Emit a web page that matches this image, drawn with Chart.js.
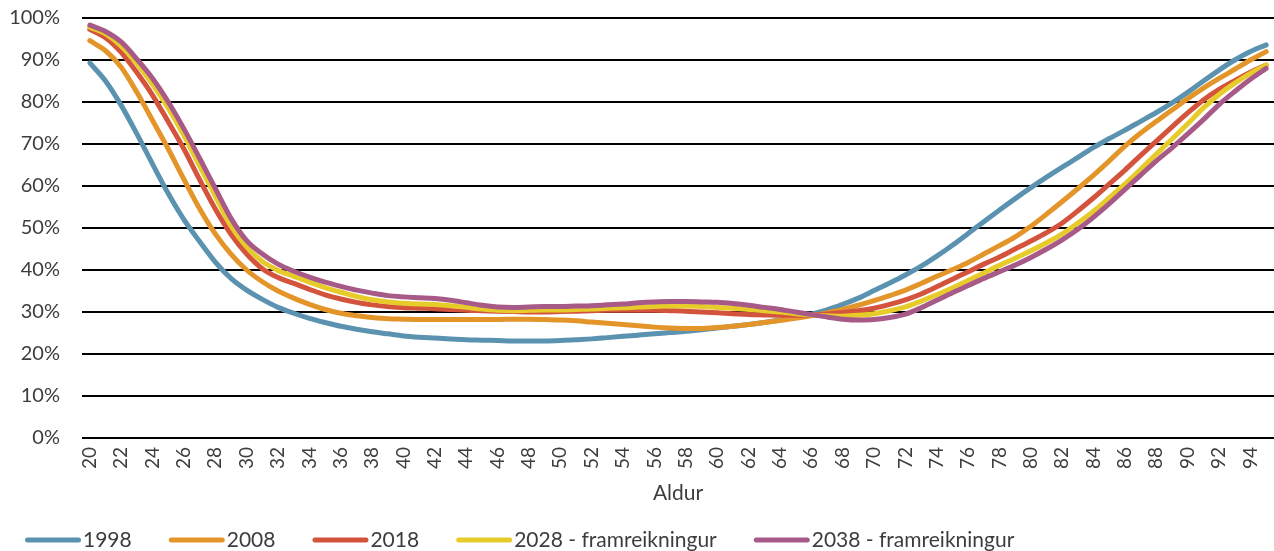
<!DOCTYPE html>
<html>
<head>
<meta charset="utf-8">
<script src="https://cdn.jsdelivr.net/npm/chart.js@4.4.1/dist/chart.umd.min.js"></script>
<style>
  html, body { margin: 0; padding: 0; background: #ffffff; }
  canvas { display: block; }
</style>
</head>
<body>
<canvas id="chart" width="1274" height="551"></canvas>
<script>
// Age groups on the horizontal axis
const ages = [20,21,22,23,24,25,26,27,28,29,30,31,32,33,34,35,36,37,38,39,
              40,41,42,43,44,45,46,47,48,49,50,51,52,53,54,55,56,57,58,59,
              60,61,62,63,64,65,66,67,68,69,70,71,72,73,74,75,76,77,78,79,
              80,81,82,83,84,85,86,87,88,89,90,91,92,93,94,95];

// Share (%) by age, one array per year
const y1998 = [89.3,85.0,79.2,72.4,65.2,58.2,52.0,46.8,41.9,38.0,
               35.2,33.0,31.1,29.7,28.5,27.5,26.6,25.9,25.3,24.8,
               24.3,24.0,23.8,23.6,23.4,23.3,23.2,23.1,23.1,23.1,
               23.2,23.4,23.6,23.9,24.2,24.5,24.8,25.1,25.4,25.8,
               26.2,26.6,27.0,27.5,28.1,28.8,29.5,30.5,31.8,33.3,
               35.1,36.9,38.8,40.9,43.3,45.9,48.7,51.5,54.3,57.0,
               59.6,62.1,64.5,66.8,69.2,71.3,73.3,75.4,77.5,79.8,
               82.3,85.0,87.6,90.0,92.0,93.6];

const y2008 = [94.6,92.2,88.3,82.3,75.6,68.8,61.6,54.6,48.6,43.8,
               40.0,37.2,35.0,33.3,31.8,30.6,29.7,29.1,28.7,28.4,
               28.3,28.2,28.2,28.2,28.2,28.2,28.2,28.3,28.3,28.2,
               28.1,27.9,27.6,27.3,27.0,26.7,26.4,26.2,26.1,26.1,
               26.3,26.6,27.0,27.5,28.0,28.5,29.1,29.8,30.6,31.6,
               32.7,33.9,35.2,36.8,38.5,40.1,41.8,43.8,45.8,47.9,
               50.4,53.3,56.3,59.4,62.6,66.0,69.5,72.6,75.4,78.1,
               80.8,83.3,85.6,87.8,90.0,92.0];

const y2018 = [97.3,95.3,91.8,87.0,81.6,75.3,68.8,61.5,54.5,48.5,
               43.8,40.3,38.2,36.8,35.4,34.1,33.1,32.3,31.7,31.3,
               31.0,30.9,30.8,30.6,30.4,30.3,30.2,30.1,30.0,30.0,
               30.1,30.2,30.3,30.4,30.4,30.4,30.4,30.3,30.2,30.0,
               29.8,29.6,29.4,29.3,29.2,29.2,29.3,29.5,29.9,30.3,
               30.9,31.8,32.9,34.3,36.0,37.8,39.6,41.4,43.1,45.0,
               46.9,48.9,51.2,54.1,57.2,60.5,63.8,67.3,70.7,74.1,
               77.4,80.5,83.0,85.1,87.1,88.8];

const y2028 = [97.8,96.2,93.3,89.1,84.2,78.5,72.0,64.8,57.6,50.5,
               45.5,42.0,39.9,38.5,37.1,35.8,34.7,33.7,32.9,32.4,
               32.1,31.9,31.8,31.5,31.1,30.7,30.4,30.3,30.4,30.5,
               30.5,30.6,30.7,30.9,31.0,31.2,31.3,31.4,31.4,31.3,
               31.1,30.9,30.6,30.3,30.0,29.6,29.3,29.1,29.0,29.2,
               29.6,30.3,31.2,32.6,34.1,35.7,37.5,39.3,41.1,42.8,
               44.6,46.5,48.6,51.2,54.0,57.2,60.5,64.0,67.6,71.2,
               74.8,78.6,81.8,84.5,86.8,88.8];

const y2038 = [98.3,96.8,94.3,90.2,85.6,80.0,73.6,66.6,59.4,52.3,
               47.0,43.8,41.4,39.7,38.3,37.1,36.1,35.2,34.5,33.9,
               33.6,33.4,33.2,32.8,32.2,31.6,31.2,31.1,31.2,31.3,
               31.3,31.4,31.5,31.7,31.9,32.2,32.4,32.5,32.5,32.4,
               32.3,32.0,31.6,31.1,30.6,30.0,29.4,28.8,28.3,28.1,
               28.2,28.7,29.5,31.0,32.8,34.6,36.3,38.0,39.6,41.2,
               43.0,45.0,47.2,49.7,52.6,55.8,59.2,62.6,66.0,69.1,
               72.4,75.8,79.4,82.5,85.4,88.0];

const seriesNames = ['1998', '2008', '2018', '2028 - framreikningur', '2038 - framreikningur'];
const seriesData = [y1998, y2008, y2018, y2028, y2038];
const seriesColors = ['#5a92b0', '#e3952a', '#d3533c', '#e6cb2b', '#a75a87'];

const yTicks = [0, 10, 20, 30, 40, 50, 60, 70, 80, 90, 100];

const FONT = 'Lato, "Open Sans", sans-serif';
const TEXT = '#3d3d3d';

// Legend row drawn underneath the axis title
const lineLegend = {
  id: 'lineLegend',
  afterDraw(chart) {
    const ctx = chart.ctx;
    ctx.save();
    ctx.font = '21px ' + FONT;
    ctx.textBaseline = 'middle';
    ctx.textAlign = 'left';
    let x = 25;
    const y = 540;
    chart.data.datasets.forEach(ds => {
      ctx.strokeStyle = ds.borderColor;
      ctx.lineWidth = 5;
      ctx.lineCap = 'round';
      ctx.beginPath();
      ctx.moveTo(x + 2.5, y);
      ctx.lineTo(x + 53.5, y);
      ctx.stroke();
      ctx.fillStyle = TEXT;
      ctx.fillText(ds.label, x + 58, y);
      x += 58 + ctx.measureText(ds.label).width + 37;
    });
    ctx.restore();
  }
};

new Chart(document.getElementById('chart'), {
  type: 'line',
  data: {
    labels: ages.map(String),
    datasets: seriesNames.map((name, i) => ({
      label: name,
      data: seriesData[i],
      borderColor: seriesColors[i],
      backgroundColor: seriesColors[i],
      borderWidth: 5,
      pointRadius: 0,
      pointHoverRadius: 0,
      cubicInterpolationMode: 'monotone',
      borderCapStyle: 'round',
      borderJoinStyle: 'round',
      fill: false,
      order: seriesNames.length - i
    }))
  },
  options: {
    responsive: false,
    devicePixelRatio: 1,
    animation: false,
    layout: { padding: { top: 18, right: 0, bottom: 38, left: 0 } },
    plugins: {
      legend: { display: false },
      tooltip: { enabled: false }
    },
    scales: {
      x: {
        type: 'category',
        offset: true,
        grid: { display: false, drawTicks: false },
        border: { display: false },
        ticks: {
          autoSkip: false,
          minRotation: 90,
          maxRotation: 90,
          padding: 9,
          color: TEXT,
          font: { family: FONT, size: 19 },
          callback: (v, i) => (ages[i] % 2 === 0 ? String(ages[i]) : '')
        },
        title: {
          display: true,
          text: 'Aldur',
          color: TEXT,
          font: { family: FONT, size: 21 },
          padding: { top: 4, bottom: 7 }
        },
        afterFit: s => { s.height = 75; s.paddingLeft = 0; s.paddingRight = 0; }
      },
      y: {
        min: 0,
        max: 100,
        afterBuildTicks: s => { s.ticks = yTicks.map(v => ({ value: v })); },
        grid: { color: '#000000', lineWidth: 2, drawTicks: false },
        border: { display: false },
        ticks: {
          padding: 22,
          color: TEXT,
          font: { family: FONT, size: 20 },
          callback: v => v + '%'
        },
        afterFit: s => { s.width = 82; s.paddingTop = 0; s.paddingBottom = 0; }
      }
    }
  },
  plugins: [lineLegend]
});
</script>
</body>
</html>
